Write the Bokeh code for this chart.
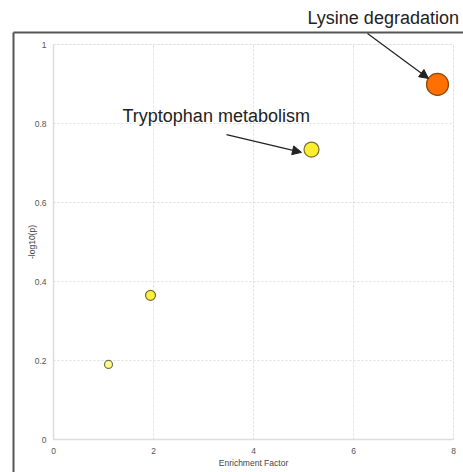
from bokeh.plotting import figure
from bokeh.models import (ColumnDataSource, Label, Arrow, NormalHead, FixedTicker,
                          Range1d, BoxAnnotation)
from bokeh.embed import file_html
from bokeh.resources import INLINE

pathways = ["Pathway A", "Pathway B", "Tryptophan metabolism", "Lysine degradation"]
enrichment = [1.1, 1.94, 5.16, 7.68]
neglog10p = [0.19, 0.365, 0.734, 0.899]
sizes = [8, 10, 15, 22]
fills = ["#ffff8a", "#fff03a", "#ffee30", "#ff7000"]
outlines = ["#6f6f5a", "#6f6a3a", "#7a7030", "#8a4a10"]
x_ticks = [0, 2, 4, 6, 8]
y_ticks = [0, 0.2, 0.4, 0.6, 0.8, 1]

src = ColumnDataSource(dict(x=enrichment, y=neglog10p, s=sizes, f=fills, l=outlines, n=pathways))

# frame spans the whole canvas; axes are pinned at 0 so that annotations outside
# the plotting box are not clipped
p = figure(width=463, height=472, x_range=Range1d(-1.06, 8.2), y_range=Range1d(-0.0835, 1.1114),
           output_backend="svg", toolbar_location=None,
           min_border_left=0, min_border_right=0, min_border_top=0, min_border_bottom=0)
p.background_fill_color = "white"
p.border_fill_color = "white"
p.outline_line_color = None

for ax in (p.xaxis[0], p.yaxis[0]):
    ax.fixed_location = 0
    ax.axis_line_color = "#dddddd"
    ax.axis_line_width = 1.5
    ax.major_tick_line_color = None
    ax.minor_tick_line_color = None
    ax.major_label_text_font = "Liberation Sans"
    ax.major_label_text_font_size = "8.5px"
    ax.major_label_text_color = "#555555"
    ax.axis_label_text_font = "Liberation Sans"
    ax.axis_label_text_font_size = "8.5px"
    ax.axis_label_text_font_style = "normal"
    ax.axis_label_text_color = "#444444"

p.xaxis.bounds = (0, 8)
p.yaxis.bounds = (0, 1)
p.xaxis.ticker = FixedTicker(ticks=x_ticks)
p.yaxis.ticker = FixedTicker(ticks=y_ticks)
p.xaxis.axis_label = "Enrichment Factor"
p.yaxis.axis_label = "-log10(p)"
p.xaxis.major_label_standoff = 2
p.yaxis.major_label_standoff = 1
p.xaxis.axis_label_standoff = 1
p.yaxis.axis_label_standoff = -5

p.xgrid.bounds = (0, 8)
p.ygrid.bounds = (0, 1)
p.xgrid.cross_bounds = (0, 1)
p.ygrid.cross_bounds = (0, 8)
p.grid.grid_line_color = "#dddddd"
p.grid.grid_line_dash = "2 2"
p.grid.grid_line_width = 1

# light plotting box
p.add_layout(BoxAnnotation(left=0, right=8, bottom=0, top=1, fill_alpha=0,
                           line_color="#dddddd", line_width=1))

p.scatter("x", "y", size="s", fill_color="f", line_color="l", line_width=1.2, source=src)

# outer dark frame lines
for (x0, y0, x1, y1) in [(-0.8, 1.0304, 9.0, 1.0304), (-0.8, 1.0304, -0.8, -0.2)]:
    p.add_layout(Arrow(end=None, x_start=x0, y_start=y0, x_end=x1, y_end=y1,
                       line_color="#555555", line_width=2))

# annotations
p.add_layout(Label(x=5.08, y=1.042, text="Lysine degradation", text_font="Liberation Sans",
                   text_font_size="18px", text_color="#222222"))
p.add_layout(Label(x=1.38, y=0.793, text="Tryptophan metabolism", text_font="Liberation Sans",
                   text_font_size="18px", text_color="#222222"))
p.add_layout(Arrow(end=NormalHead(size=9, fill_color="#222222", line_color="#222222"),
                   x_start=6.28, y_start=1.028, x_end=7.5, y_end=0.914,
                   line_color="#222222", line_width=1.2))
p.add_layout(Arrow(end=NormalHead(size=9, fill_color="#222222", line_color="#222222"),
                   x_start=3.46, y_start=0.772, x_end=4.96, y_end=0.727,
                   line_color="#222222", line_width=1.2))

open("out.html", "w").write(file_html(p, INLINE))
